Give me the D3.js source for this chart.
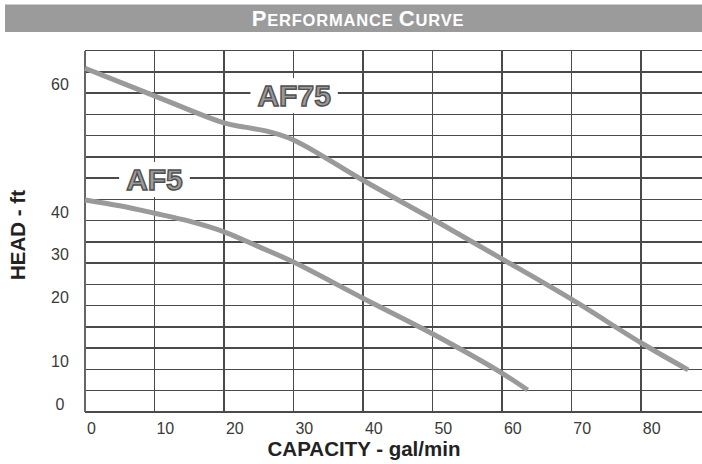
<!DOCTYPE html>
<html>

<head>
  <meta charset="UTF-8">
  <title>Performance Curve</title>
  <script src="https://d3js.org/d3.v7.min.js"></script>
  <style>
    body {
      margin: 0;
      background: #fff;
    }

    text {
      font-family: "Liberation Sans", Arial, sans-serif;
    }

    .grid line {
      stroke: #4a4a4a;
      stroke-width: 1.4px;
      shape-rendering: crispEdges;
    }

    .curve {
      fill: none;
      stroke: #9a9a9a;
      stroke-width: 5px;
      stroke-linecap: butt;
    }

    .tick-label {
      font-size: 16px;
      fill: #3a3a3a;
    }

    .axis-title {
      font-size: 20.5px;
      font-weight: bold;
      fill: #222;
    }

    .model-label {
      font-size: 30px;
      font-weight: bold;
      fill: #9a9a9a;
      stroke: #505050;
      stroke-width: 1.4px;
    }
  </style>
</head>

<body>
  <div id="chart"></div>

  <script>
    // capacity (gal/min) and head, head in grid units (4 per line)
    const af75Capacity = [0, 10, 20, 23, 26, 30, 40, 50, 60, 70, 80, 86.8];
    const af75Head = [64.7, 59.5, 54.4, 53.6, 52.9, 51.2, 43.6, 36.3, 28.8, 21.2, 13.0, 7.9];

    const af5Capacity = [0, 5, 10, 15, 20, 25, 30, 40, 50, 60, 63.7];
    const af5Head = [39.9, 38.8, 37.4, 35.9, 33.9, 31.1, 28.2, 21.4, 14.7, 7.3, 4.1];

    const xTicks = [0, 10, 20, 30, 40, 50, 60, 70, 80];
    // the printed head labels are not evenly spaced, keep them where they sit
    const yTickLabels = ["60", "40", "30", "20", "10", "0"];
    const yTickAt = [61.6, 37.6, 29.7, 21.6, 9.5, 1.4];

    const seriesNames = ["AF75", "AF5"];
    const labelCapacity = [30.1, 10];
    const labelHead = [59.6, 43.8];

    const width = 702, height = 464;
    const margin = { top: 50.7, right: 0, bottom: 52.2, left: 85 };

    const svg = d3.select("#chart")
      .append("svg")
      .attr("width", width)
      .attr("height", height);

    // title bar
    svg.append("rect")
      .attr("x", 5)
      .attr("y", 4.5)
      .attr("width", width - 5)
      .attr("height", 27.5)
      .attr("fill", "#9b9b9b");

    // small caps done by hand: big first letters, smaller rest
    const title = svg.append("text")
      .attr("x", 358)
      .attr("y", 25.5)
      .attr("text-anchor", "middle")
      .style("font-weight", "bold")
      .style("letter-spacing", "0.8px")
      .style("fill", "#fff");
    [["P", 22], ["ERFORMANCE ", 16.5], ["C", 22], ["URVE", 16.5]].forEach(function (p) {
      title.append("tspan").style("font-size", p[1] + "px").text(p[0]);
    });

    const x = d3.scaleLinear()
      .domain([0, 88.8])
      .range([margin.left, width - margin.right]);

    const y = d3.scaleLinear()
      .domain([0, 68])
      .range([height - margin.bottom, margin.top]);

    const grid = svg.append("g").attr("class", "grid");

    // horizontal rules every 4 units
    grid.selectAll(".h")
      .data(d3.range(0, 69, 4))
      .enter().append("line")
      .attr("class", "h")
      .attr("x1", x(0))
      .attr("x2", width)
      .attr("y1", d => y(d))
      .attr("y2", d => y(d));

    grid.selectAll(".v")
      .data(xTicks)
      .enter().append("line")
      .attr("class", "v")
      .attr("x1", d => x(d))
      .attr("x2", d => x(d))
      .attr("y1", y(0))
      .attr("y2", y(68))
      .style("stroke-width", d => d === 0 ? "2.2px" : null)
      .style("stroke", d => d === 0 ? "#666" : null);

    // x tick labels
    svg.selectAll(".x-label")
      .data(xTicks)
      .enter().append("text")
      .attr("class", "tick-label")
      .attr("x", d => x(d) + 2)
      .attr("y", y(0) + 22)
      .text(d => d);

    // y tick labels
    svg.selectAll(".y-label")
      .data(yTickLabels)
      .enter().append("text")
      .attr("class", "tick-label")
      .attr("x", 60)
      .attr("y", (d, i) => y(yTickAt[i]))
      .attr("dy", "0.35em")
      .attr("text-anchor", "middle")
      .text(d => d);

    // curves
    const line = d3.line()
      .x(d => x(d[0]))
      .y(d => y(d[1]))
      .curve(d3.curveCatmullRom);

    const series = [
      d3.zip(af75Capacity, af75Head),
      d3.zip(af5Capacity, af5Head)
    ];

    svg.selectAll(".curve")
      .data(series)
      .enter().append("path")
      .attr("class", "curve")
      .attr("d", line);

    // model labels on a white patch
    seriesNames.forEach(function (name, i) {
      const g = svg.append("g");
      const bg = g.append("rect").attr("fill", "#fff");
      const t = g.append("text")
        .attr("class", "model-label")
        .attr("x", x(labelCapacity[i]))
        .attr("y", y(labelHead[i]))
        .attr("dy", "0.36em")
        .attr("text-anchor", "middle")
        .text(name);
      const b = t.node().getBBox();
      bg.attr("x", b.x - 7)
        .attr("y", b.y - 1)
        .attr("width", b.width + 14)
        .attr("height", b.height + 2);
    });

    // axis titles
    svg.append("text")
      .attr("class", "axis-title")
      .attr("x", 364)
      .attr("y", 456)
      .attr("text-anchor", "middle")
      .text("CAPACITY - gal/min");

    svg.append("text")
      .attr("class", "axis-title")
      .attr("transform", "translate(25, 235) rotate(-90)")
      .attr("text-anchor", "middle")
      .text("HEAD - ft");
  </script>
</body>

</html>
